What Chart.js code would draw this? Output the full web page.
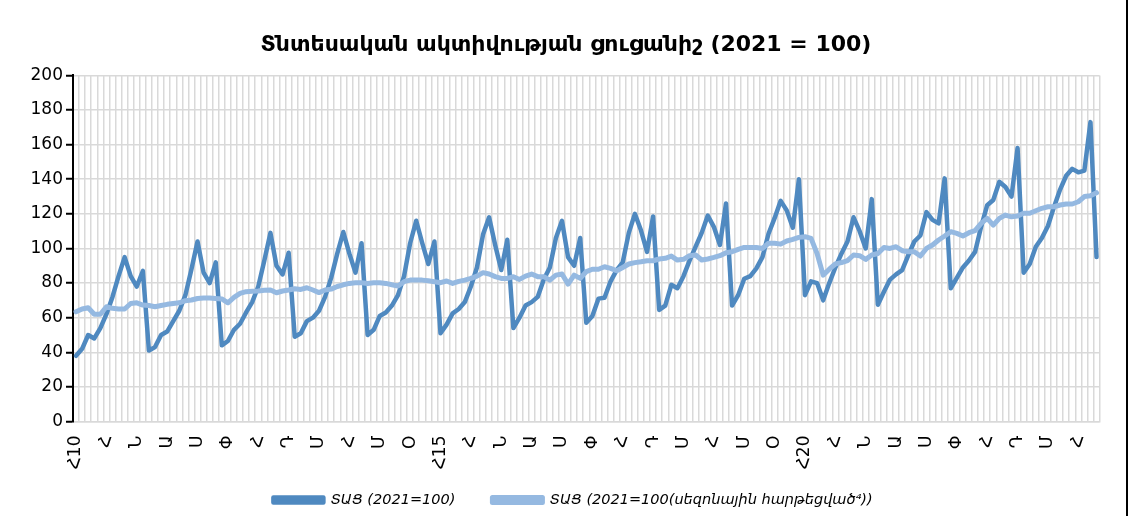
<!DOCTYPE html>
<html>
<head>
<meta charset="utf-8">
<script src="https://cdn.jsdelivr.net/npm/chart.js@4"></script>
<style>
  html,body{margin:0;padding:0;background:#fff;}
  #wrap{width:1131px;height:516px;position:relative;}
</style>
</head>
<body>
<div id="wrap"><canvas id="c" width="1131" height="516"></canvas></div>
<script>
// Month initials (Armenian) and years
const monthInitials = ['Հ','Փ','Մ','Ա','Մ','Հ','Հ','Օ','Ս','Հ','Ն','Դ'];
const yearSuffixes = ['10','11','12','13','14','15','16','17','18','19','20','21','22','23','24'];
const pointCount = 169; // Jan 2010 .. Jan 2024
const labelEvery = 5;

// Economic activity index (2021=100)
const tas = [
  38, 42, 50, 48, 54, 62, 72, 84, 95, 84, 78, 87,
  41, 43, 50, 52, 58, 64, 73, 88, 104, 86, 80, 92,
  44, 46.5, 53, 56.5, 63, 69, 78, 93, 109, 90, 85, 97.5,
  49, 51, 58, 60, 64, 72, 83, 97, 109.5, 97, 86, 103,
  50, 53, 61, 63, 67, 73, 84, 103, 116, 103, 91, 104,
  51, 56, 62.5, 65, 69, 78, 89, 108, 118, 102, 87.5, 105,
  54, 60, 67, 69, 72, 82, 89, 106, 116, 95, 90, 106,
  57, 61, 71, 71.5, 81, 87.5, 92, 109, 120, 110.5, 98, 118.5,
  64.5, 67, 79, 77, 84, 93, 101, 109, 119, 112.5, 102, 126,
  67, 73, 82.5, 84, 88.5, 95, 108.5, 117.5, 127.5, 122, 112, 140,
  73, 81, 80, 70, 80, 89, 97, 104, 118, 110, 100, 128.5,
  67.5, 75, 82, 85, 87.5, 96, 104, 107.5, 121, 116.5, 114.5, 140.5,
  77, 83, 89, 93, 98, 112.5, 125, 128, 138.5, 135.5, 130, 158,
  86, 91, 101, 106, 113, 124, 134, 142, 146, 144, 145, 173,
  95
];

// Economic activity index, seasonally adjusted (2021=100)
const tasSA = [
  63.4, 65, 65.7, 62, 62, 66.3, 65.4, 65, 65, 68.2, 68.6, 67.3,
  67, 66.3, 67, 67.7, 68.2, 68.6, 69.8, 70.2, 71.1, 71.3, 71.3, 71.1,
  70.8, 68.6, 71.7, 74, 75, 75.2, 75.4, 75.8, 76, 74.4, 75.4, 76,
  76.7, 76.3, 77.3, 76, 74.5, 76, 76.5, 78, 79, 79.8, 80.2, 80.2,
  79.8, 80.2, 80.2, 79.8, 79, 78.3, 80.8, 81.7, 81.7, 81.7, 81.3, 80.8,
  80.2, 81.2, 79.8, 81, 81.7, 82.7, 84, 86, 85.2, 83.7, 82.7, 82.7,
  83.7, 82.1, 84, 85.2, 83.7, 83.7, 81.7, 84.6, 85.2, 79.4, 84.6, 82.7,
  86.6, 88, 88, 89.4, 88.5, 87.1, 89, 91, 91.8, 92.3, 92.9, 92.9,
  93.9, 94.3, 95.6, 93.3, 93.7, 95.8, 96.2, 93.3, 93.9, 94.8, 95.8, 97.5,
  98.1, 99.5, 100.6, 100.6, 100.6, 100, 103, 103, 102.5, 104.3, 105.2, 106.4,
  106.8, 105.8, 97, 84.6, 88, 91, 91.8, 93, 96.2, 95.8, 93.7, 96.2,
  97.1, 100.6, 100, 101, 98.7, 98.1, 98.1, 95.6, 100, 102, 104.9, 107.2,
  109.7, 108.7, 107.2, 109.1, 110.3, 114.5, 117.4, 113.5, 117.4, 119.3, 118.3, 118.7,
  120.3, 120.3, 121.8, 123.2, 124.1, 124.1, 125.1, 125.7, 125.7, 127, 130, 130.5,
  132.2
];

const yTicks = {min: 0, max: 200, step: 20};
const chartTitle = 'Տնտեսական ակտիվության ցուցանիշ (2021 = 100)';
const seriesNames = ['ՏԱՑ (2021=100)', 'ՏԱՑ (2021=100(սեզոնային հարթեցված⁴))'];

const categories = [];
for (let i = 0; i < pointCount; i++) {
  const m = i % 12, y = Math.floor(i / 12);
  categories.push(m === 0 ? monthInitials[0] + yearSuffixes[y] : monthInitials[m]);
}

const FONT = "'DejaVu Sans', sans-serif";
const LEGEND_FONT = 14.5, LEGEND_PAD = 37;

const framePlugin = {
  id: 'frame',
  beforeDraw(chart) {
    const ctx = chart.ctx;
    ctx.save();
    ctx.fillStyle = '#fff';
    ctx.fillRect(0, 0, chart.width, chart.height);
    ctx.restore();
  },
  afterLayout(chart) {
    const lg = chart.legend;
    if (lg) {
      const centerY = lg.top + LEGEND_PAD + LEGEND_FONT / 2;
      const dy = 500 - centerY;
      lg.top += dy; lg.bottom += dy;
      const dx = 573 - (lg.left + lg.right) / 2;
      lg.left += dx; lg.right += dx;
    }
    const tb = chart.titleBlock;
    if (tb) {
      const dx = 566 - (tb.left + tb.right) / 2;
      tb.left += dx; tb.right += dx;
    }
  },
  afterDraw(chart) {
    const ctx = chart.ctx;
    ctx.save();
    ctx.fillStyle = '#000';
    ctx.fillRect(1126, 0, 2, chart.height);
    ctx.restore();
  }
};

new Chart(document.getElementById('c'), {
  type: 'line',
  data: {
    labels: categories,
    datasets: [
      {label: seriesNames[0], data: tas, borderColor: '#4F89C0', backgroundColor: '#4F89C0',
       borderWidth: 4.5, pointRadius: 0, tension: 0, borderJoinStyle: 'round', borderCapStyle: 'round', order: 1},
      {label: seriesNames[1], data: tasSA, borderColor: '#95B9E1', backgroundColor: '#95B9E1',
       borderWidth: 5, pointRadius: 0, tension: 0, borderJoinStyle: 'round', borderCapStyle: 'round', order: 0}
    ]
  },
  options: {
    responsive: false,
    animation: false,
    layout: {padding: {left: 0, right: 22, top: 0, bottom: -20}},
    plugins: {
      title: {display: true, text: chartTitle, color: '#000',
        font: {family: FONT, size: 22, weight: 'bold'}, padding: {top: 32, bottom: 17}},
      legend: {position: 'bottom',
        labels: {color: '#000', font: {family: FONT, size: LEGEND_FONT, style: 'italic'},
          boxWidth: 50, boxHeight: 5, padding: LEGEND_PAD,
          sort: (a, b) => a.datasetIndex - b.datasetIndex}},
      tooltip: {enabled: false}
    },
    scales: {
      x: {
        offset: true,
        grid: {offset: true, color: '#D9D9D9', lineWidth: 1.5, drawTicks: false},
        border: {color: '#D9D9D9', width: 1.5},
        ticks: {autoSkip: false, minRotation: 90, maxRotation: 90, padding: 14,
          color: '#000', font: {family: FONT, size: 17},
          callback: function(v, i) { return i % labelEvery === 0 ? this.getLabelForValue(v) : ''; }},
        afterFit: s => { s.height = 53; }
      },
      y: {
        min: yTicks.min, max: yTicks.max,
        grid: {color: '#D9D9D9', lineWidth: 1.5, tickColor: '#000', tickLength: 7, tickWidth: 2},
        border: {color: '#000', width: 2},
        ticks: {stepSize: yTicks.step, padding: 3, color: '#000', font: {family: FONT, size: 17}},
        afterFit: s => { s.width = 73; }
      }
    }
  },
  plugins: [framePlugin]
});
</script>
</body>
</html>
